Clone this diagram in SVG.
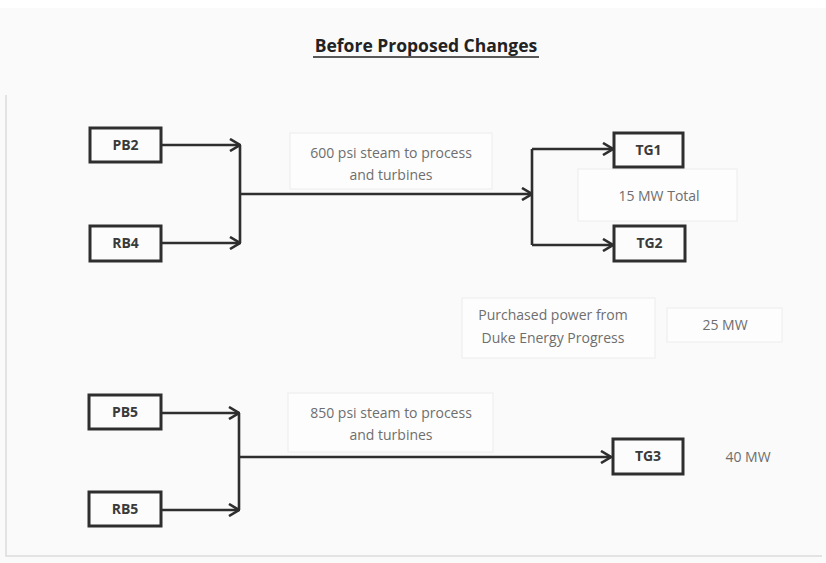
<svg xmlns="http://www.w3.org/2000/svg" width="826" height="563" viewBox="0 0 826 563">
<style>
.bg{fill:#fafafa}
.node rect{fill:#fcfcfc;stroke:#2e2e2e;stroke-width:3}
.node text{font-family:"Open Sans","Liberation Sans",sans-serif;font-weight:bold;font-size:14px;fill:#3a3a3a;text-anchor:middle}
.lbl rect{fill:#fdfdfd;stroke:#ececec;stroke-width:1}
.lbl text{font-family:"Open Sans","Liberation Sans",sans-serif;font-size:14px;fill:#6e6e6e;text-anchor:middle}
.conn path{fill:none;stroke:#2e2e2e;stroke-width:2.6}
.title{font-family:"Open Sans","Liberation Sans",sans-serif;font-weight:bold;font-size:17.5px;fill:#222;text-anchor:middle}
</style>
<defs>
<marker id="arr" viewBox="0 0 12 14" refX="11" refY="7" markerWidth="12" markerHeight="14" markerUnits="userSpaceOnUse" orient="auto">
<path d="M1,1 L11,7 L1,13" fill="none" stroke="#2e2e2e" stroke-width="2.6"/>
</marker>
</defs>
<rect class="bg" x="0" y="0" width="826" height="563"/>
<rect x="0" y="0" width="826" height="8" fill="#ffffff"/>
<g id="frame" stroke="#dcdcdc" stroke-width="1.5" fill="none">
<path d="M6,95 L6,556 L822,556"/>
</g>
<g id="title">
<text class="title" x="426" y="52">Before Proposed Changes</text>
<line x1="313" y1="57" x2="539" y2="57" stroke="#222" stroke-width="1.5"/>
</g>
<g class="conn" id="connectors">
<path d="M161,145 L240,145" marker-end="url(#arr)"/>
<path d="M161,243 L240,243" marker-end="url(#arr)"/>
<path d="M240,145 L240,243"/>
<path d="M240,194 L532,194" marker-end="url(#arr)"/>
<path d="M532,149 L532,245"/>
<path d="M532,149 L613,149" marker-end="url(#arr)"/>
<path d="M532,245 L613,245" marker-end="url(#arr)"/>
<path d="M161,413 L239,413" marker-end="url(#arr)"/>
<path d="M161,510 L239,510" marker-end="url(#arr)"/>
<path d="M239,413 L239,510"/>
<path d="M239,457 L611,457" marker-end="url(#arr)"/>
</g>
<g class="lbl" id="lbl600">
<rect x="290" y="133" width="202" height="56"/>
<text x="391" y="158">600 psi steam to process</text>
<text x="391" y="180">and turbines</text>
</g>
<g class="lbl" id="lbl15">
<rect x="578" y="169" width="159" height="52"/>
<text x="659" y="201">15 MW Total</text>
</g>
<g class="lbl" id="lblPurchased">
<rect x="462" y="298" width="193" height="60"/>
<text x="553" y="320">Purchased power from</text>
<text x="553" y="343">Duke Energy Progress</text>
</g>
<g class="lbl" id="lbl25">
<rect x="667" y="308" width="115" height="34"/>
<text x="725" y="330">25 MW</text>
</g>
<g class="lbl" id="lbl850">
<rect x="288" y="393" width="205" height="59"/>
<text x="391" y="418">850 psi steam to process</text>
<text x="391" y="440">and turbines</text>
</g>
<g class="lbl" id="lbl40">
<text x="748" y="462">40 MW</text>
</g>
<g class="node" id="PB2"><rect x="90" y="128" width="71" height="34"/><text x="125.5" y="150">PB2</text></g>
<g class="node" id="RB4"><rect x="90" y="226" width="71" height="35"/><text x="125.5" y="248">RB4</text></g>
<g class="node" id="TG1"><rect x="614" y="133" width="69" height="34"/><text x="648.5" y="155">TG1</text></g>
<g class="node" id="TG2"><rect x="614" y="226" width="71" height="35"/><text x="649.5" y="248">TG2</text></g>
<g class="node" id="PB5"><rect x="89" y="395" width="72" height="34"/><text x="125" y="417">PB5</text></g>
<g class="node" id="RB5"><rect x="89" y="492" width="72" height="34"/><text x="125" y="514">RB5</text></g>
<g class="node" id="TG3"><rect x="613" y="439" width="70" height="35"/><text x="648" y="461">TG3</text></g>
</svg>
